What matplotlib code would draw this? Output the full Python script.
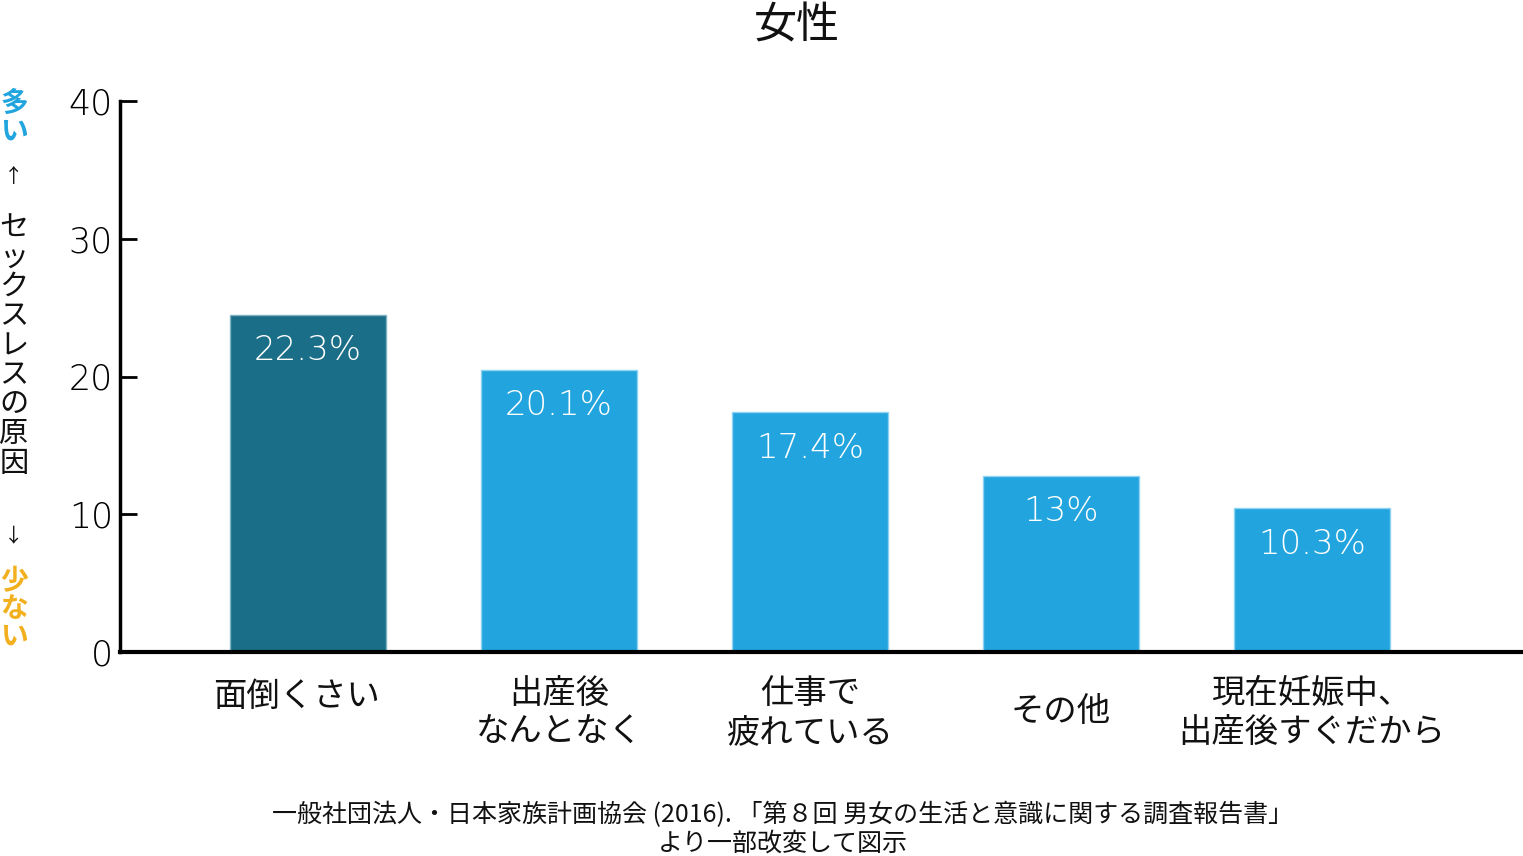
import matplotlib
matplotlib.use("Agg")
import matplotlib.pyplot as plt
import matplotlib.transforms as mtransforms

plt.rcParams['font.family'] = ['Noto Sans CJK JP', 'DejaVu Sans']

# ---- data ----
categories = ["面倒くさい", "出産後\nなんとなく", "仕事で\n疲れている", "その他", "現在妊娠中、\n出産後すぐだから"]
bar_heights = [24.5, 20.5, 17.4, 12.8, 10.45]   # bar heights as drawn in the picture
value_labels = ["22.3%", "20.1%", "17.4%", "13%", "10.3%"]
yticks = [0, 10, 20, 30, 40]
title = "女性"
source_lines = "一般社団法人・日本家族計画協会 (2016). 「第８回 男女の生活と意識に関する調査報告書」\nより一部改変して図示"

dark_color = "#1A6E88"
light_color = "#22A5DE"
colors = [dark_color] + [light_color] * 4
edge_colors = ["#7fb3c4"] + ["#8fd3f2"] * 4

W, H = 1523, 856
fig = plt.figure(figsize=(W / 100, H / 100), dpi=100)
ax = fig.add_axes([120 / W, 1 - 652 / H, (W - 120) / W, (652 - 101) / H])

x = list(range(len(categories)))
bars = ax.bar(x, bar_heights, width=0.62, color=colors, edgecolor=edge_colors, linewidth=1.0, zorder=2)

ax.set_xlim(-0.749, 4.841)
ax.set_ylim(0, 40)
ax.set_yticks(yticks)
ax.set_yticklabels([str(t) for t in yticks], fontsize=25, family=['DejaVu Sans'], fontweight='light')
ax.tick_params(axis='y', direction='in', length=12, width=2, pad=5, colors='black')
ax.set_xticks([])

for s in ['top', 'right']:
    ax.spines[s].set_visible(False)
ax.spines['left'].set_linewidth(2.5)
ax.spines['bottom'].set_linewidth(3)
ax.spines['bottom'].set_zorder(3)

# value labels inside bars
for xi, h, lab in zip(x, bar_heights, value_labels):
    ax.annotate(lab, (xi, h), xytext=(0, -26), textcoords='offset points',
                ha='center', va='center', color='white', fontsize=24.5,
                family=['DejaVu Sans'], fontweight='light')

# category labels
trans = mtransforms.blended_transform_factory(ax.transData, fig.transFigure)
for xi, cat in zip(x, categories):
    if "\n" in cat:
        ypix = 713
        xo = 0
    elif xi == 0:
        ypix = 696
        xo = -0.045
    else:
        ypix = 711
        xo = 0
    ax.text(xi + xo, 1 - ypix / H, cat, transform=trans, ha='center', va='center',
            fontsize=24, linespacing=1.14, color='#111111')

# title
fig.text(797 / W, 1 - 26 / H, title, ha='center', va='center', fontsize=31, color='#111111')

# left vertical annotation
def vtext(chars, y0, step, color, weight='normal', size=20):
    for i, ch in enumerate(chars):
        fig.text(14 / W, 1 - (y0 + i * step) / H, ch, ha='center', va='center',
                 fontsize=size, color=color, fontweight=weight)

vtext("多い", 104, 28, light_color, weight='bold', size=20)
vtext("↑", 176, 0, '#111111', size=14)
vtext("セックスレスの原因", 228, 29.5, '#111111', size=21)
vtext("↓", 536, 0, '#111111', size=14)
vtext("少ない", 581, 28, '#F2B01E', weight='bold', size=20)

# source
fig.text(783 / W, 1 - 829 / H, source_lines, ha='center', va='center', fontsize=18,
         linespacing=1.15, color='#111111')

fig.savefig("out.png", dpi=100)
